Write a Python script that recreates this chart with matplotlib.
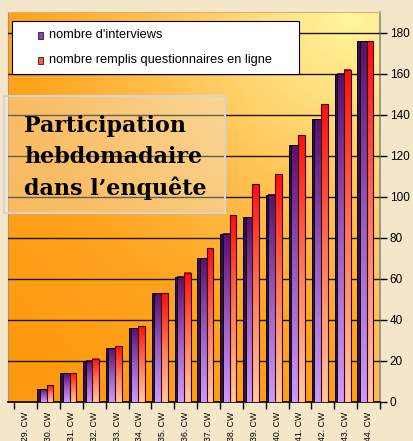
import matplotlib
matplotlib.use("Agg")
import matplotlib.pyplot as plt
import numpy as np
from matplotlib.patches import Rectangle
from matplotlib.colors import LinearSegmentedColormap

# data
weeks = ["29. CW", "30. CW", "31. CW", "32. CW", "33. CW", "34. CW", "35. CW", "36. CW",
         "37. CW", "38. CW", "39. CW", "40. CW", "41. CW", "42. CW", "43. CW", "44. CW"]
interviews = [0, 6, 14, 20, 26, 36, 53, 61, 70, 82, 90, 101, 125, 138, 160, 176]
en_ligne = [0, 8, 14, 21, 27, 37, 53, 63, 75, 91, 106, 111, 130, 145, 162, 176]
yticks = list(range(0, 181, 20))

label_a = "nombre d'interviews"
label_b = "nombre remplis questionnaires en ligne"
titre = ["Participation", "hebdomadaire", "dans l\u2019enqu\u00eate"]

W, H = 414, 441
plt.rcParams['font.family'] = ['Liberation Sans', 'DejaVu Sans']


def fx(x):
    return x / W


def fy(y):
    return 1 - y / H


fig = plt.figure(figsize=(W / 100, H / 100), dpi=100)
fig.patch.set_facecolor("#f4e6c9")

ax = fig.add_axes([fx(8), fy(401.7), fx(380) - fx(8), fy(11.7) - fy(401.7)])

# background gradient (radial, light spot top right)
yy, xx = np.mgrid[0:1:200j, 0:1:200j]
d = np.sqrt(((xx - 0.92) * 372) ** 2 + ((yy - 1.0) * 390) ** 2)
t = np.clip(d / 470.0, 0, 1) ** 0.8
bg_cmap = LinearSegmentedColormap.from_list("bg", ["#fffaa0", "#ffe080", "#ffc050", "#ffa41e", "#ff9a10"])
ax.imshow(t, cmap=bg_cmap, extent=(0, 1, 0, 1), origin="lower", transform=ax.transAxes,
          aspect="auto", zorder=0, interpolation="bilinear")

purple_cmap = LinearSegmentedColormap.from_list("pu", ["#cc99ff", "#9a5cc4", "#5c0f70"])
red_cmap = LinearSegmentedColormap.from_list("rd", ["#ffc89c", "#ff7a5a", "#ff1010"])
grad = np.linspace(0, 1, 64).reshape(-1, 1)

for i in range(len(weeks)):
    v1 = interviews[i]
    v2 = en_ligne[i]
    if v1 > 0:
        ax.add_patch(Rectangle((i - 0.49, 0), 0.11, v1, facecolor="#3c0848",
                               edgecolor="black", lw=0.7, zorder=3))
        ax.imshow(grad, cmap=purple_cmap, extent=(i - 0.38, i - 0.08, 0, v1), origin="lower",
                  aspect="auto", zorder=3, interpolation="bilinear")
        ax.add_patch(Rectangle((i - 0.38, 0), 0.30, v1, fill=False,
                               edgecolor="black", lw=0.7, zorder=4))
    if v2 > 0:
        ax.imshow(grad, cmap=red_cmap, extent=(i - 0.08, i + 0.21, 0, v2), origin="lower",
                  aspect="auto", zorder=3, interpolation="bilinear")
        ax.add_patch(Rectangle((i - 0.08, 0), 0.29, v2, fill=False,
                               edgecolor="#3a0000", lw=0.8, zorder=4))

# side wall strip on the right
ax.axvspan(15.24, 15.5, color="#fff0b0", alpha=0.35, zorder=1, lw=0)

ax.set_xlim(-0.775, 15.5)
ax.set_ylim(0, 190.2)

ax.set_yticks(yticks)
ax.yaxis.tick_right()
ax.tick_params(axis="y", direction="out", length=5, width=1, pad=2, labelsize=8.5,
               colors="black")
ax.grid(axis="y", color="#1e1408", lw=1.0, zorder=2)
ax.set_axisbelow(False)

ax.set_xticks(range(len(weeks)))
ax.set_xticklabels(weeks, rotation=90, fontsize=6.3, va="top")
ax.set_xticks(np.arange(-0.5, len(weeks), 1.0), minor=True)
ax.tick_params(axis="x", which="major", length=0, pad=7)
ax.tick_params(axis="x", which="minor", direction="out", length=5, width=1, color="black")

ax.spines["left"].set_color("#b09070")
ax.spines["top"].set_color("#d8b070")
ax.spines["top"].set_linewidth(0.8)
ax.spines["right"].set_color("#8a8a8a")
ax.spines["right"].set_linewidth(1.2)
ax.spines["bottom"].set_color("black")
ax.spines["bottom"].set_linewidth(1.2)

# legend box
fig.add_artist(Rectangle((fx(11.7), fy(74)), fx(299.3) - fx(11.7), fy(21) - fy(74),
                         transform=fig.transFigure, facecolor="white", edgecolor="black",
                         lw=0.8, zorder=5))
fig.add_artist(Rectangle((fx(37.7), fy(38.5)), fx(5.5), fy(32) - fy(38.5),
                         transform=fig.transFigure, facecolor="#9040b8", edgecolor="#202020",
                         lw=0.6, zorder=6))
fig.add_artist(Rectangle((fx(37.7), fy(63.5)), fx(5.5), fy(57) - fy(63.5),
                         transform=fig.transFigure, facecolor="#ff5a40", edgecolor="#202020",
                         lw=0.6, zorder=6))
fig.text(fx(49.3), fy(35.2), label_a, fontsize=9.2, va="center", ha="left", zorder=6)
fig.text(fx(49.3), fy(60.2), label_b, fontsize=9.2, va="center", ha="left", zorder=6)

# title box
fig.add_artist(Rectangle((fx(4), fy(213)), fx(225) - fx(4), fy(96) - fy(213),
                         transform=fig.transFigure, facecolor="#eeeeee", alpha=0.35,
                         edgecolor="none", zorder=5))
fig.add_artist(Rectangle((fx(4), fy(213)), fx(225) - fx(4), fy(96) - fy(213),
                         transform=fig.transFigure, fill=False, edgecolor="#d4d4d4",
                         lw=1.5, zorder=5))
for k, line in enumerate(titre):
    fig.text(fx(24), fy(131.7 + 31.7 * k), line, family="DejaVu Serif", fontweight="bold",
             fontsize=16, ha="left", va="baseline", zorder=6)

fig.savefig("out.png", dpi=100, facecolor=fig.get_facecolor())
